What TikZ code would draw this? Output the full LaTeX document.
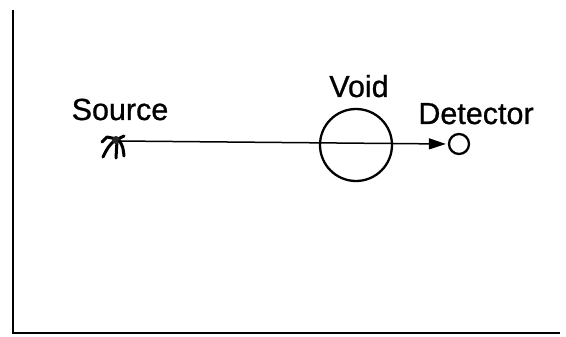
\documentclass[tikz,border=0pt]{standalone}
\usepackage{fontspec}
\setmainfont{Liberation Sans}
\newfontfamily\lblfont{Liberation Sans}[FakeBold=0.8]
\usetikzlibrary{arrows.meta}
\begin{document}
\begin{tikzpicture}[x=1pt,y=-1pt,
  lbl/.style={font=\lblfont\fontsize{30.5}{33}\selectfont, inner sep=0pt},
  frame/.style={line width=2pt},
  ray/.style={line width=1.5pt,-{Triangle[length=17pt,width=11pt]}},
  leg/.style={line width=3pt,line cap=round,line join=round}]
\useasboundingbox (0,0) rectangle (566,337);
\fill[white] (0,0) rectangle (566,337);
% frame
\coordinate (ftop) at (13,10);
\coordinate (fcorner) at (13,333);
\coordinate (fright) at (560,333);
\draw[frame] (ftop) -- (fcorner) -- (fright);
% source
\coordinate (src) at (118,141);
\draw[leg] (102,142) -- (107,137) -- (117,139);
\draw[leg] (115,140) .. controls (108,147) .. (103,157);
\draw[leg] (117,141) -- (116,158);
\draw[leg] (119,140) .. controls (123,147) .. (124,156);
\draw[leg] (116,140) -- (124,136);
\fill[black!85] (116,140) circle (4pt);
\node[lbl,anchor=base] (srclbl) at (120,120) {Source};
% void
\node[draw,circle,line width=2.3pt,minimum size=72pt,inner sep=0pt] (void) at (356,145) {};
\node[lbl,anchor=base] (voidlbl) at (359,97) {Void};
% detector
\node[draw,circle,line width=2.3pt,minimum size=20pt,inner sep=0pt] (det) at (459,144) {};
\node[lbl,anchor=base] (detlbl) at (476,124) {Detector};
% ray
\draw[ray] (src) -- ([xshift=-2pt]det.west);
\end{tikzpicture}
\end{document}
